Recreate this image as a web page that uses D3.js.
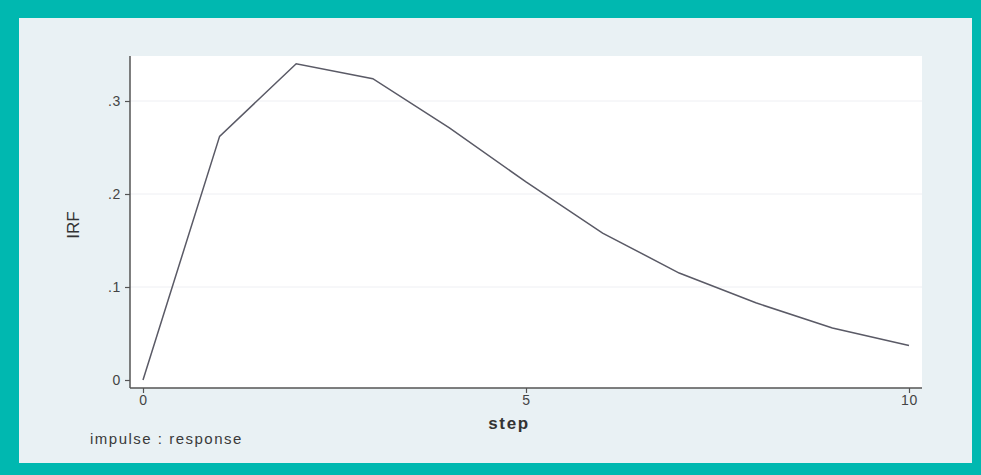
<!DOCTYPE html>
<html>
<head>
<meta charset="utf-8">
<script src="https://cdn.jsdelivr.net/npm/d3@7"></script>
<style>
  html, body { margin: 0; padding: 0; background: #00b8b0; }
  svg { display: block; }
  text { font-family: "Liberation Sans", Arial, sans-serif; }
</style>
</head>
<body>
<svg id="chart" width="981" height="475"></svg>
<script>
// Impulse-response values by step
const steps = [0, 1, 2, 3, 4, 5, 6, 7, 8, 9, 10];
const irf = [0, 0.262, 0.340, 0.324, 0.271, 0.213, 0.158, 0.115, 0.083, 0.056, 0.037];
const xTicks = [0, 5, 10];
const yTicks = [0, 0.1, 0.2, 0.3];
const yTickLabels = ["0", ".1", ".2", ".3"];

const svg = d3.select("#chart");

// inner panel inside the teal frame
svg.append("rect")
  .attr("x", 19).attr("y", 18).attr("width", 953).attr("height", 445)
  .attr("fill", "#e9f1f4");

const plot = { left: 130, right: 922, top: 56, bottom: 388 };

svg.append("rect")
  .attr("x", plot.left).attr("y", plot.top)
  .attr("width", plot.right - plot.left).attr("height", plot.bottom - plot.top)
  .attr("fill", "#ffffff");

const x = d3.scaleLinear().domain([0, 10]).range([143, 909]);
const y = d3.scaleLinear().domain([0, 0.3]).range([380, 101]);

// horizontal grid lines
svg.append("g").selectAll("line").data(yTicks.slice(1)).join("line")
  .attr("x1", plot.left).attr("x2", plot.right)
  .attr("y1", d => y(d)).attr("y2", d => y(d))
  .attr("stroke", "#eeeff3").attr("stroke-width", 1);

// y axis
const yAxis = d3.axisLeft(y).tickValues(yTicks)
  .tickFormat((d, i) => yTickLabels[i]).tickSize(5).tickPadding(4);
const gy = svg.append("g").attr("transform", `translate(${plot.left},0)`).call(yAxis);
gy.select(".domain").attr("d", `M0,${plot.top}V${plot.bottom}`);

// x axis
const xAxis = d3.axisBottom(x).tickValues(xTicks).tickSize(5).tickPadding(2);
const gx = svg.append("g").attr("transform", `translate(0,${plot.bottom})`).call(xAxis);
gx.select(".domain").attr("d", `M${plot.left},0H${plot.right}`);

[gx, gy].forEach(g => {
  g.select(".domain").attr("stroke", "#555").attr("stroke-width", 1.5);
  g.selectAll(".tick line").attr("stroke", "#555").attr("stroke-width", 1.2);
  g.selectAll(".tick text").attr("fill", "#444").attr("font-size", 14)
    .attr("letter-spacing", 0.6);
});

// response line
const line = d3.line().x((d, i) => x(steps[i])).y(d => y(d));
svg.append("path")
  .datum(irf)
  .attr("d", line)
  .attr("fill", "none")
  .attr("stroke", "#5a5a66")
  .attr("stroke-width", 1.5);

// axis titles and note
svg.append("text")
  .attr("transform", "translate(79,225) rotate(-90)")
  .attr("text-anchor", "middle")
  .attr("font-size", 17).attr("fill", "#333")
  .text("IRF");

svg.append("text")
  .attr("x", 509).attr("y", 429)
  .attr("text-anchor", "middle")
  .attr("font-size", 17).attr("font-weight", "bold").attr("fill", "#333")
  .attr("letter-spacing", 1.6)
  .text("step");

svg.append("text")
  .attr("x", 90).attr("y", 444)
  .attr("font-size", 15).attr("fill", "#3a3a3a")
  .attr("letter-spacing", 1.5)
  .text("impulse : response");
</script>
</body>
</html>
